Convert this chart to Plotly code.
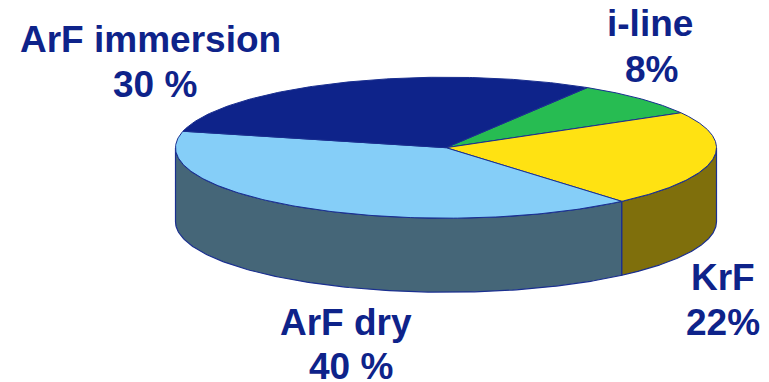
import numpy as np
import plotly.graph_objects as go

# Market share by lithography technology, clockwise from the top of the disc
categories = ["i-line", "KrF", "ArF dry", "ArF immersion"]
shares = [8, 22, 40, 30]
share_labels = ["8%", "22%", "40 %", "30 %"]

top_colors = ["#27BC52", "#FFE212", "#85CEF8", "#0E238A"]
wall_colors = [None, "#7F6F0C", "#456678", None]
edge_color = "#1A2F90"
text_color = "#0E238A"

CX, CY = 446.0, 147.7
RX, RY = 270.5, 70.5
DEPTH = 74.0
START_DEG = 58.5

label_pos = {
    "i-line": (650, 23, 651, 69),
    "KrF": (723, 277, 723, 322),
    "ArF dry": (346, 322, 351, 366),
    "ArF immersion": (150, 39, 155, 84),
}


def rim(a0, a1, n=160):
    t = np.radians(np.linspace(a0, a1, n))
    return CX + RX * np.cos(t), CY - RY * np.sin(t)


fig = go.Figure()

# Slice boundaries in degrees, derived from the shares
stops = START_DEG - np.cumsum([0] + shares) * 3.6

# Side walls: only the part of each slice on the front half of the disc
for i, color in enumerate(wall_colors):
    if color is None:
        continue
    a0 = max(stops[i + 1], -180.0)
    a1 = min(stops[i], 0.0)
    x, y = rim(a0, a1)
    fig.add_trace(go.Scatter(
        x=np.concatenate([x, x[::-1], x[:1]]),
        y=np.concatenate([y, y[::-1] + DEPTH, y[:1]]),
        mode="lines", fill="toself", fillcolor=color,
        line=dict(color=edge_color, width=1.2),
        hoverinfo="skip", showlegend=False,
    ))

# Top faces
for i, color in enumerate(top_colors):
    x, y = rim(stops[i + 1], stops[i])
    fig.add_trace(go.Scatter(
        x=np.concatenate([[CX], x, [CX]]),
        y=np.concatenate([[CY], y, [CY]]),
        mode="lines", fill="toself", fillcolor=color,
        line=dict(color=edge_color, width=1.0),
        name=categories[i], hoverinfo="name", showlegend=False,
    ))

# Category and percentage captions
for name, pct in zip(categories, share_labels):
    x1, y1, x2, y2 = label_pos[name]
    for x, y, txt in ((x1, y1, name), (x2, y2, pct)):
        fig.add_annotation(
            x=x, y=y, text=f"<b>{txt}</b>", showarrow=False, xanchor="center", yanchor="middle",
            font=dict(family="Liberation Sans", size=37, color=text_color),
        )

fig.update_layout(
    width=769, height=382,
    margin=dict(l=0, r=0, t=0, b=0),
    paper_bgcolor="white", plot_bgcolor="white",
    xaxis=dict(range=[0, 769], visible=False, fixedrange=True),
    yaxis=dict(range=[382, 0], visible=False, fixedrange=True),
)
fig.write_html("out.html", config={"displayModeBar": False})
